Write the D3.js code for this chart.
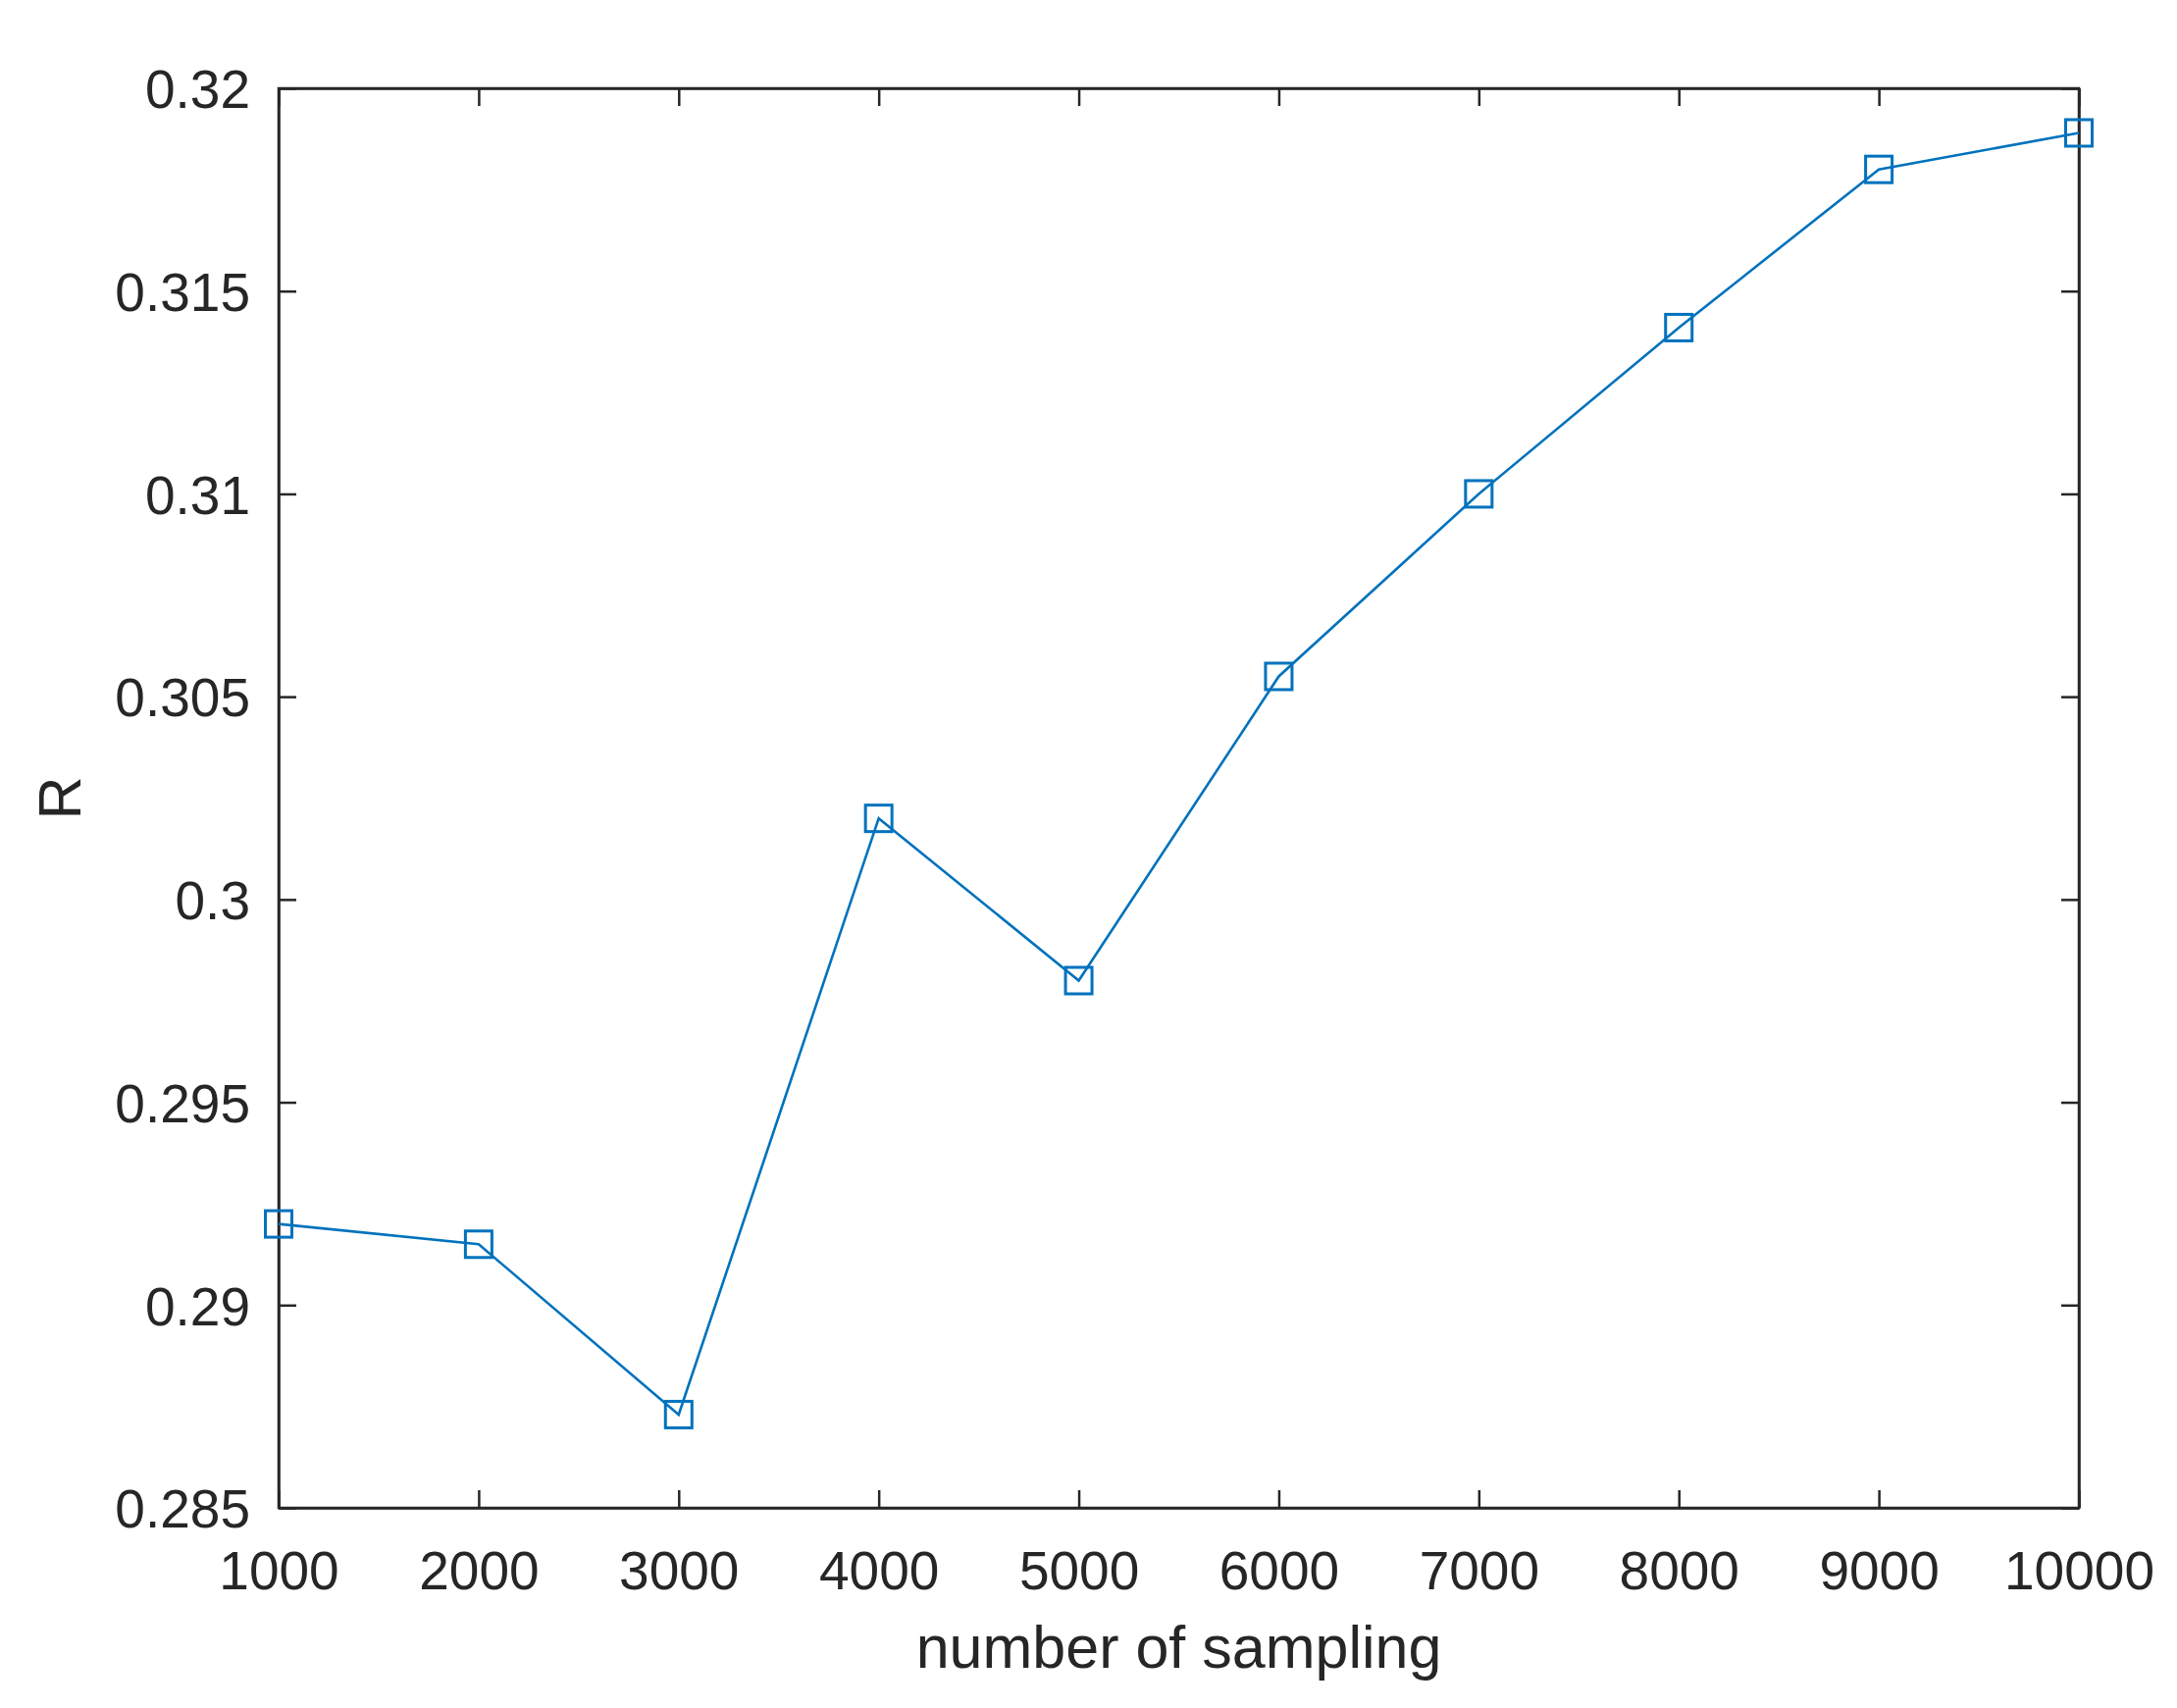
<!DOCTYPE html>
<html>
<head>
<meta charset="utf-8">
<script src="https://cdn.jsdelivr.net/npm/d3@7"></script>
<style>
  html, body { margin: 0; padding: 0; background: #fff; }
  svg { display: block; }
  text { font-family: "Liberation Sans", Arial, sans-serif; fill: #262626; }
</style>
</head>
<body>
<script>
const samplingCounts = [1000, 2000, 3000, 4000, 5000, 6000, 7000, 8000, 9000, 10000];
const rValues = [0.2920, 0.2915, 0.2873, 0.3020, 0.2980, 0.3055, 0.3100, 0.3141, 0.3180, 0.3189];
const xTicks = [1000, 2000, 3000, 4000, 5000, 6000, 7000, 8000, 9000, 10000];
const yTicks = [0.285, 0.29, 0.295, 0.3, 0.305, 0.31, 0.315, 0.32];
const yTickLabels = ["0.285", "0.29", "0.295", "0.3", "0.305", "0.31", "0.315", "0.32"];
const xLabel = "number of sampling";
const yLabel = "R";

const W = 2219, H = 1741;
const mLeft = 284, mRight = 2119, mTop = 90, mBottom = 1537;
const axisColor = "#262626";
const lineColor = "#0072BD";

const svg = d3.select("body").append("svg").attr("width", W).attr("height", H);

const x = d3.scaleLinear().domain([1000, 10000]).range([mLeft, mRight]);
const y = d3.scaleLinear().domain([0.285, 0.32]).range([mBottom, mTop]);

const tickLen = 18;
const fontTick = 55;

const gB = svg.append("g").attr("transform", `translate(0,${mBottom})`)
  .call(d3.axisBottom(x).tickValues(xTicks).tickFormat(d3.format("d")).tickSizeInner(-tickLen).tickSizeOuter(0).tickPadding(44));
const gT = svg.append("g").attr("transform", `translate(0,${mTop})`)
  .call(d3.axisTop(x).tickValues(xTicks).tickFormat("").tickSizeInner(-tickLen).tickSizeOuter(0));
const gL = svg.append("g").attr("transform", `translate(${mLeft},0)`)
  .call(d3.axisLeft(y).tickValues(yTicks).tickFormat((d, i) => yTickLabels[i]).tickSizeInner(-tickLen).tickSizeOuter(0).tickPadding(29));
const gR = svg.append("g").attr("transform", `translate(${mRight},0)`)
  .call(d3.axisRight(y).tickValues(yTicks).tickFormat("").tickSizeInner(-tickLen).tickSizeOuter(0));

[gB, gT, gL, gR].forEach(g => {
  g.select(".domain").attr("stroke", axisColor).attr("stroke-width", 2.5);
  g.selectAll(".tick line").attr("stroke", axisColor).attr("stroke-width", 2.5);
  g.selectAll(".tick text").attr("fill", axisColor)
    .style("font-family", '"Liberation Sans", Arial, sans-serif')
    .style("font-size", fontTick + "px");
});
gL.selectAll(".tick text").attr("dy", "0.36em");
gB.selectAll(".tick text").attr("dy", "0.71em");

svg.append("rect").attr("x", mLeft).attr("y", mTop).attr("width", mRight - mLeft).attr("height", mBottom - mTop)
  .attr("fill", "none").attr("stroke", axisColor).attr("stroke-width", 2.5);

const data = samplingCounts.map((s, i) => ({ s, r: rValues[i] }));
svg.append("path").datum(data)
  .attr("fill", "none").attr("stroke", lineColor).attr("stroke-width", 2.6)
  .attr("d", d3.line().x(d => x(d.s)).y(d => y(d.r)));

const ms = 27;
svg.selectAll("rect.marker").data(data).enter().append("rect")
  .attr("class", "marker")
  .attr("x", d => x(d.s) - ms / 2).attr("y", d => y(d.r) - ms / 2)
  .attr("width", ms).attr("height", ms)
  .attr("fill", "none").attr("stroke", lineColor).attr("stroke-width", 3);

svg.append("text").attr("x", (mLeft + mRight) / 2).attr("y", 1700)
  .attr("text-anchor", "middle").style("font-size", "61px").text(xLabel);
svg.append("text").attr("transform", `translate(82,${(mTop + mBottom) / 2}) rotate(-90)`)
  .attr("text-anchor", "middle").style("font-size", "61px").text(yLabel);
</script>
</body>
</html>
